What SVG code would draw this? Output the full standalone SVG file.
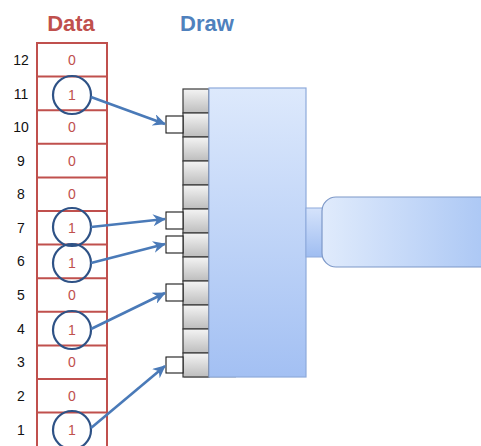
<svg xmlns="http://www.w3.org/2000/svg" width="481" height="446" viewBox="0 0 481 446">
  <style>
    .title { font-family: "Liberation Sans", Arial, sans-serif; font-weight: bold; font-size: 22px; text-anchor: middle; }
    .idx { font-family: "Liberation Sans", Arial, sans-serif; font-size: 14px; fill: #111111; text-anchor: middle; }
    .val { font-family: "Liberation Sans", Arial, sans-serif; font-size: 14px; fill: #c0504d; text-anchor: middle; }
    .cell { fill: #ffffff; stroke: #c0504d; stroke-width: 2; }
    .ring { fill: none; stroke: #2e5286; stroke-width: 2.2; }
    .pin { fill: url(#pinGrad); stroke: #3a3a3a; stroke-width: 1.2; }
    .port { fill: #ffffff; stroke: #1a1a1a; stroke-width: 1.1; }
    .wire { fill: none; stroke: #4a7ab8; stroke-width: 2.6; marker-end: url(#head); }
  </style>
  <defs>
    <linearGradient id="pinGrad" x1="0" y1="0" x2="0" y2="1">
      <stop offset="0" stop-color="#f4f4f4"/>
      <stop offset="1" stop-color="#bdbdbd"/>
    </linearGradient>
    <linearGradient id="bodyGrad" x1="0" y1="0" x2="0" y2="1">
      <stop offset="0" stop-color="#dde9fc"/>
      <stop offset="1" stop-color="#a3c0f3"/>
    </linearGradient>
    <linearGradient id="stubGrad" x1="0" y1="0" x2="0" y2="1">
      <stop offset="0" stop-color="#d5e3fb"/>
      <stop offset="1" stop-color="#9fbdf1"/>
    </linearGradient>
    <linearGradient id="outGrad" x1="0" y1="0" x2="1" y2="0">
      <stop offset="0" stop-color="#e0ebfc"/>
      <stop offset="1" stop-color="#a8c5f4"/>
    </linearGradient>
    <marker id="head" markerUnits="userSpaceOnUse" markerWidth="14" markerHeight="12" refX="12" refY="6" orient="auto">
      <path d="M0,0 L13,6 L0,12 L4,6 Z" fill="#4a7ab8"/>
    </marker>
  </defs>

  <!-- headings -->
  <text class="title" x="71" y="31" fill="#c0504d">Data</text>
  <text class="title" x="207" y="31" fill="#4f81bd">Draw</text>

  <!-- data column -->
  <g id="data">
    <rect class="cell" x="37" y="43" width="70" height="404"/>
    <path d="M37,76.6H107M37,110.2H107M37,143.8H107M37,177.4H107M37,211H107M37,244.6H107M37,278.2H107M37,311.8H107M37,345.4H107M37,379H107M37,412.6H107" stroke="#c0504d" stroke-width="2" fill="none"/>
    <g>
      <text class="idx" x="21" y="65">12</text>
      <text class="idx" x="21" y="99">11</text>
      <text class="idx" x="21" y="132">10</text>
      <text class="idx" x="21" y="166">9</text>
      <text class="idx" x="21" y="199">8</text>
      <text class="idx" x="21" y="233">7</text>
      <text class="idx" x="21" y="266">6</text>
      <text class="idx" x="21" y="300">5</text>
      <text class="idx" x="21" y="334">4</text>
      <text class="idx" x="21" y="367">3</text>
      <text class="idx" x="21" y="401">2</text>
      <text class="idx" x="21" y="435">1</text>
    </g>
    <g>
      <text class="val" x="72" y="65">0</text>
      <text class="val" x="72" y="100">1</text>
      <text class="val" x="72" y="132">0</text>
      <text class="val" x="72" y="166">0</text>
      <text class="val" x="72" y="199">0</text>
      <text class="val" x="72" y="233">1</text>
      <text class="val" x="72" y="268">1</text>
      <text class="val" x="72" y="300">0</text>
      <text class="val" x="72" y="335">1</text>
      <text class="val" x="72" y="367">0</text>
      <text class="val" x="72" y="401">0</text>
      <text class="val" x="72" y="435">1</text>
    </g>
    <g>
      <circle class="ring" cx="72" cy="95" r="19"/>
      <circle class="ring" cx="72" cy="227" r="19"/>
      <circle class="ring" cx="72" cy="263" r="19"/>
      <circle class="ring" cx="72" cy="330" r="19"/>
      <circle class="ring" cx="72" cy="430" r="19"/>
    </g>
  </g>

  <!-- draw unit -->
  <g id="draw">
    <rect x="184" y="376" width="52" height="2" fill="#9a9a9a" opacity="0.5"/>
    <g>
      <rect class="pin" x="183" y="89" width="26" height="24"/>
      <rect class="pin" x="183" y="113" width="26" height="24"/>
      <rect class="pin" x="183" y="137" width="26" height="24"/>
      <rect class="pin" x="183" y="161" width="26" height="24"/>
      <rect class="pin" x="183" y="185" width="26" height="24"/>
      <rect class="pin" x="183" y="209" width="26" height="24"/>
      <rect class="pin" x="183" y="233" width="26" height="24"/>
      <rect class="pin" x="183" y="257" width="26" height="24"/>
      <rect class="pin" x="183" y="281" width="26" height="24"/>
      <rect class="pin" x="183" y="305" width="26" height="24"/>
      <rect class="pin" x="183" y="329" width="26" height="24"/>
      <rect class="pin" x="183" y="353" width="26" height="24"/>
    </g>
    <rect x="209" y="88" width="97" height="289" fill="url(#bodyGrad)" stroke="#8eaadb" stroke-width="1.2"/>
    <g>
      <rect class="port" x="166" y="116" width="17" height="17"/>
      <rect class="port" x="166" y="212" width="17" height="17"/>
      <rect class="port" x="166" y="236" width="17" height="17"/>
      <rect class="port" x="166" y="284" width="17" height="17"/>
      <rect class="port" x="166" y="357" width="17" height="16"/>
    </g>
  </g>

  <!-- output -->
  <g id="output">
    <rect x="306" y="208" width="17" height="49" fill="url(#stubGrad)" stroke="#8eaadb" stroke-width="1"/>
    <rect x="322" y="197" width="175" height="70" rx="14" fill="url(#outGrad)" stroke="#7d98c8" stroke-width="1.2"/>
  </g>

  <!-- connectors -->
  <g id="connectors">
    <path class="wire" d="M91,97 L165,124"/>
    <path class="wire" d="M91,227 L165,219"/>
    <path class="wire" d="M91,263 L165,244"/>
    <path class="wire" d="M91,329 L165,293"/>
    <path class="wire" d="M91,428 L165,366"/>
  </g>
</svg>
